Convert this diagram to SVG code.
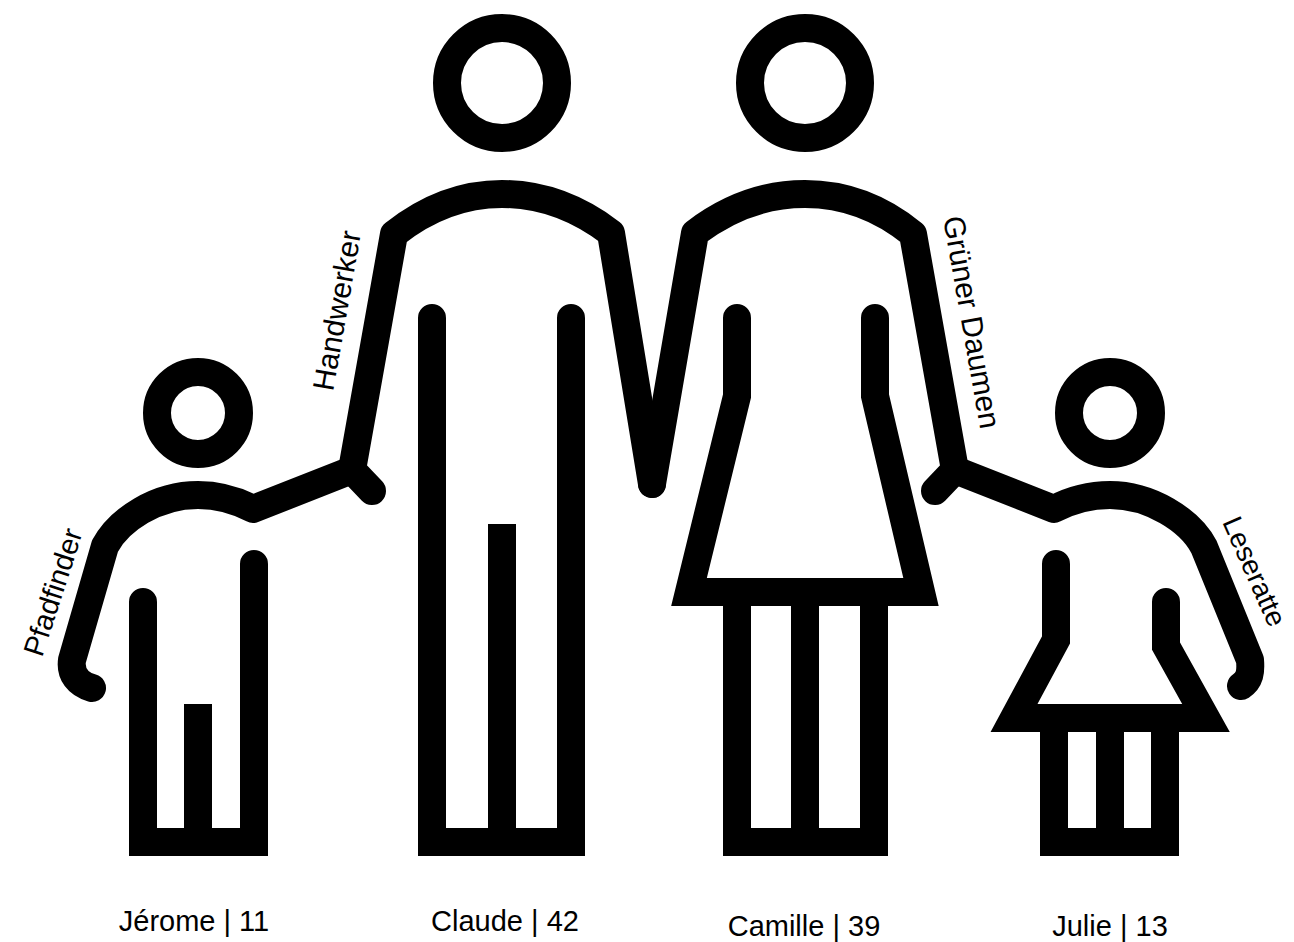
<svg xmlns="http://www.w3.org/2000/svg" width="1294" height="942" viewBox="0 0 1294 942">
<style>
.l{fill:none;stroke:#000;stroke-width:28;stroke-linejoin:miter}
.r{stroke-linecap:round;stroke-linejoin:round}
.m{stroke-linecap:round}
text{font-family:"Liberation Sans",Arial,sans-serif;font-size:29px;fill:#000}
</style>
<rect width="1294" height="942" fill="#fff"/>
<g id="claude">
<circle class="l" cx="502" cy="83" r="55"/>
<path class="l m" d="M432 318V842H571V318"/>
<path class="l" d="M502 524V842"/>
<path class="l r" d="M372 491 L352 470 L394 234 C428 207 464 194 502 194 C541 194 577 207 611 233 L652 484"/>
</g>
<g id="camille">
<circle class="l" cx="805" cy="83" r="55"/>
<path class="l r" d="M652 484 L695 233 C729 207 766 194 805 194 C843 194 880 207 913 234 L955 470 L935 491"/>
<path class="l m" d="M737 318V396L689 592H921L875 396V318"/>
<path class="l" d="M737 592V842H874V592M805 592V842"/>
</g>
<g id="jerome">
<circle class="l" cx="198" cy="413" r="41"/>
<path class="l r" d="M92 688 C78 684 70 674 72 660 L105 546 C119 520 156 495 198 495 C218 495 236 500 253 509 L352 470"/>
<path class="l m" d="M143 602V842H254V564"/>
<path class="l" d="M198 704V842"/>
</g>
<g id="julie">
<circle class="l" cx="1110" cy="413" r="41"/>
<path class="l r" d="M955 470 L1054 509 C1071 500 1090 495 1110 495 C1150 495 1190 520 1204 547 L1250 660 C1251 672 1250 680 1241 686"/>
<path class="l m" d="M1056 564V640L1014 718H1206L1166 646V602"/>
<path class="l" d="M1054 718V842H1165V718M1110 718V842"/>
</g>
<g id="labels">
<text x="194" y="931" text-anchor="middle">Jérome | 11</text>
<text x="505" y="931" text-anchor="middle">Claude | 42</text>
<text x="804" y="936" text-anchor="middle">Camille | 39</text>
<text x="1110" y="936" text-anchor="middle">Julie | 13</text>
<text transform="translate(42 658) rotate(-72)">Pfadfinder</text>
<text transform="translate(333 392) rotate(-80)" style="font-size:30px">Handwerker</text>
<text transform="translate(943 218) rotate(80)" style="font-size:30px">Grüner Daumen</text>
<text transform="translate(1222 522) rotate(66)" style="font-size:28px">Leseratte</text>
</g>
</svg>
